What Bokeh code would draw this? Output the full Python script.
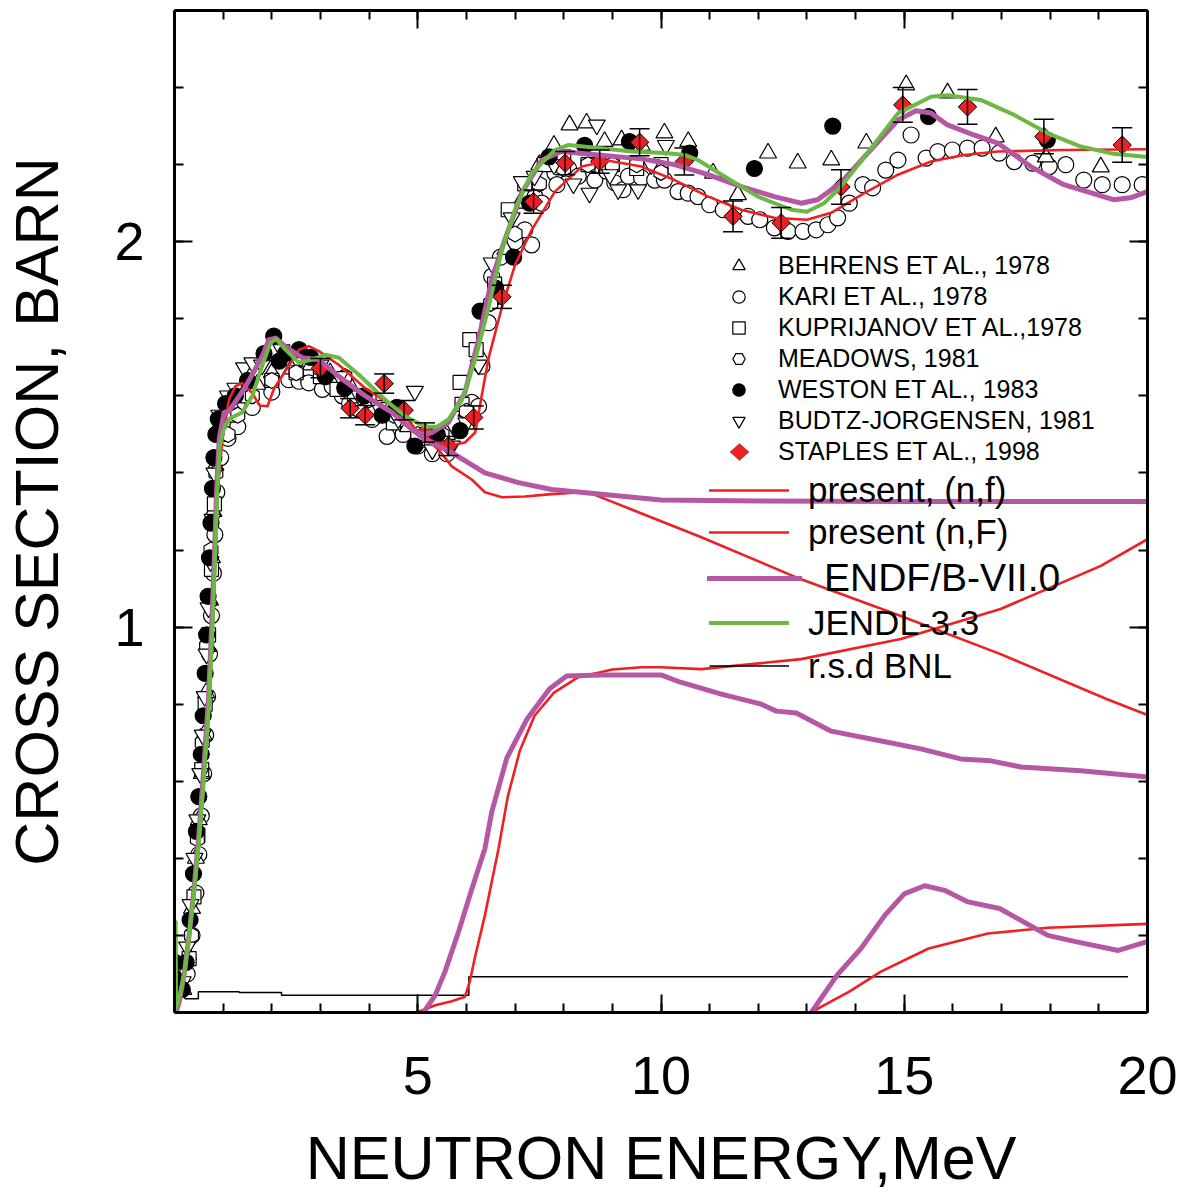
import math
from bokeh.plotting import figure
from bokeh.models import (LinearAxis, FixedTicker, Legend, LegendItem, Whisker,
                          TeeHead, ColumnDataSource, PolyAnnotation)
from bokeh.embed import file_html
from bokeh.resources import INLINE

FONT = "Liberation Sans"

# ---------------- axis ticks ----------------
X_MAJOR = [5, 10, 15, 20]
X_MINOR = list(range(0, 21))
Y_MAJOR = [1, 2]
Y_MINOR = [0.2, 0.4, 0.6, 0.8, 1.0, 1.2, 1.4, 1.6, 1.8, 2.0, 2.2, 2.4, 2.6]

# ---------------- experimental data ----------------
behrens_x = [0.18, 0.28, 0.36, 0.44, 0.5, 0.56, 0.6, 0.65, 0.69, 0.73, 0.77, 0.8, 0.84, 0.9, 1.0,
             1.2, 1.4, 1.7, 2.0, 2.4, 2.8, 3.2, 3.6, 4.0, 4.4, 4.8, 5.2, 5.6, 6.0, 6.3,
             6.5, 6.8, 7.1, 7.5, 7.8, 8.12, 8.47, 8.84, 9.19, 9.6, 10.07, 10.56, 11.07, 11.58, 12.2,
             12.81, 13.5, 14.22, 15.04, 15.89, 16.88, 17.91, 19.04]
behrens_y = [0.06, 0.15, 0.27, 0.4, 0.5, 0.62, 0.72, 0.83, 0.95, 1.07, 1.18, 1.3, 1.42, 1.52, 1.55,
             1.57, 1.6, 1.63, 1.66, 1.67, 1.68, 1.66, 1.63, 1.59, 1.55, 1.52, 1.48, 1.5, 1.56, 1.7,
             1.85, 1.98, 2.1, 2.2, 2.25, 2.303, 2.308, 2.26, 2.264, 2.25, 2.282, 2.26, 2.178, 2.122, 2.23,
             2.204, 2.212, 2.256, 2.407, 2.386, 2.272, 2.22, 2.194]

kari_x = [0.26, 0.36, 0.44, 0.5, 0.55, 0.6, 0.64, 0.68, 0.72, 0.76, 0.8, 0.83, 0.87, 0.95, 1.1,
          1.3, 1.6, 2.0, 2.35, 2.56, 2.76, 3.04, 3.24, 3.45, 3.6, 3.79, 4.06, 4.37, 4.7, 5.0,
          5.3, 5.6, 6.11, 6.25, 6.32, 6.45, 6.52, 6.7, 7.0, 7.2, 7.34, 7.41, 7.55, 7.82, 7.86,
          8.1, 8.3, 8.64, 8.88, 9.05, 9.22, 9.33, 9.6, 9.87, 10.07, 10.35, 10.56, 10.76, 11.0, 11.28,
          11.79, 12.03, 12.33, 12.61, 12.92, 13.19, 13.43, 13.63, 13.87, 14.15, 14.35, 14.62, 14.87, 15.14, 15.45,
          15.69, 15.99, 16.3, 16.6, 16.95, 17.26, 17.64, 17.98, 18.32, 18.69, 19.07, 19.48, 19.89]
kari_y = [0.1, 0.2, 0.31, 0.41, 0.51, 0.62, 0.72, 0.82, 0.93, 1.03, 1.14, 1.24, 1.35, 1.44, 1.49,
          1.52, 1.57, 1.61, 1.642, 1.638, 1.634, 1.617, 1.625, 1.6, 1.58, 1.565, 1.539, 1.495, 1.5, 1.47,
          1.45, 1.45, 1.583, 1.573, 1.677, 1.79, 1.91, 1.96, 2.0, 2.031, 1.992, 2.117, 2.1, 2.178, 2.148,
          2.19, 2.17, 2.16, 2.183, 2.153, 2.135, 2.17, 2.166, 2.16, 2.16, 2.13, 2.126, 2.117, 2.096, 2.083,
          2.066, 2.057, 2.036, 2.027, 2.027, 2.031, 2.044, 2.062, 2.1, 2.148, 2.14, 2.186, 2.212, 2.277, 2.217,
          2.234, 2.238, 2.243, 2.243, 2.23, 2.208, 2.204, 2.195, 2.2, 2.16, 2.148, 2.148, 2.148]

kuprij_x = [0.3, 0.4, 0.48, 0.56, 0.63, 0.7, 0.76, 0.82, 0.95, 1.2, 1.5, 2.0, 2.5, 3.0, 3.34,
            3.7, 4.12, 4.5, 5.0, 5.4, 5.87, 5.91, 6.07, 6.2, 6.58, 6.86, 7.2, 7.6, 8.0, 8.5,
            9.0, 9.5, 10.0]
kuprij_y = [0.14, 0.3, 0.46, 0.63, 0.8, 0.98, 1.15, 1.32, 1.5, 1.55, 1.6, 1.64, 1.66, 1.65, 1.617,
            1.6, 1.57, 1.53, 1.49, 1.48, 1.635, 1.578, 1.746, 1.72, 1.89, 2.083, 2.15, 2.2, 2.22, 2.2,
            2.2, 2.19, 2.2]

meadows_x = [0.35, 0.47, 0.57, 0.66, 0.75, 0.85, 1.1, 1.3, 1.6, 2.0, 2.5, 3.0, 3.5, 4.0, 4.5,
             5.0, 5.5, 6.0, 6.5, 7.0, 7.5, 8.0, 8.5, 9.0, 9.5, 10.0]
meadows_y = [0.2, 0.45, 0.7, 0.95, 1.2, 1.4, 1.5, 1.55, 1.6, 1.64, 1.66, 1.67, 1.65, 1.59, 1.55,
             1.5, 1.5, 1.56, 1.84, 2.02, 2.15, 2.19, 2.2, 2.2, 2.2, 2.18]

weston_x = [0.0, 0.0, 0.01, 0.16, 0.24, 0.32, 0.39, 0.45, 0.5, 0.55, 0.59, 0.63, 0.66, 0.69, 0.72,
            0.75, 0.78, 0.81, 0.85, 0.9, 1.05, 1.25, 1.5, 1.84, 2.04, 2.15, 2.28, 2.56, 2.8, 3.1,
            3.5, 3.9, 4.27, 4.57, 4.94, 5.4, 5.87, 6.28, 6.6, 6.97, 7.3, 7.7, 8.43, 9.35, 10.59,
            11.92, 13.53, 15.5, 17.94]
weston_y = [0.05, 0.09, 0.13, 0.06, 0.13, 0.24, 0.36, 0.47, 0.56, 0.67, 0.77, 0.88, 0.98, 1.08, 1.18,
            1.27, 1.36, 1.44, 1.5, 1.54, 1.58, 1.6, 1.64, 1.71, 1.755, 1.69, 1.71, 1.72, 1.7, 1.65,
            1.62, 1.6, 1.55, 1.57, 1.47, 1.5, 1.51, 1.82, 1.88, 1.96, 2.1, 2.22, 2.25, 2.26, 2.23,
            2.19, 2.3, 2.325, 2.264]

budtz_x = [0.17, 0.26, 0.33, 0.41, 0.47, 0.53, 0.58, 0.62, 0.66, 0.7, 0.74, 0.78, 0.82, 0.92, 1.1,
           1.25, 1.43, 1.6, 1.8, 2.2, 2.6, 3.0, 3.4, 3.8, 4.2, 4.6, 4.94, 5.3, 5.7, 6.0,
           6.25, 6.52, 6.93, 7.14, 7.4, 7.8, 8.2, 8.53, 8.68, 8.95, 9.12, 9.53, 9.8, 10.1]
budtz_y = [0.08, 0.17, 0.28, 0.4, 0.5, 0.62, 0.72, 0.82, 0.93, 1.05, 1.17, 1.28, 1.4, 1.55, 1.6,
           1.62, 1.673, 1.686, 1.68, 1.72, 1.7, 1.68, 1.65, 1.6, 1.57, 1.54, 1.612, 1.46, 1.47, 1.53,
           1.68, 1.945, 2.062, 2.156, 2.17, 2.2, 2.15, 2.126, 2.303, 2.174, 2.135, 2.135, 2.2, 2.25]

staples_x = [3.0, 3.61, 3.92, 4.31, 4.72, 5.15, 5.63, 6.15, 6.73, 7.38, 8.03, 8.74, 9.56, 10.48,
             11.48, 12.47, 13.7, 14.97, 16.3, 17.87, 19.48]
staples_y = [1.672, 1.568, 1.55, 1.632, 1.563, 1.505, 1.47, 1.544, 1.857, 2.104, 2.204, 2.208, 2.258,
             2.208, 2.066, 2.049, 2.142, 2.355, 2.35, 2.273, 2.251]
staples_err = [0.025, 0.025, 0.025, 0.025, 0.025, 0.025, 0.025, 0.03, 0.03, 0.03, 0.03, 0.03, 0.035,
               0.035, 0.04, 0.04, 0.045, 0.045, 0.045, 0.045, 0.045]

# ---------------- evaluations ----------------
present_nf_x = [0.0, 0.015, 0.1, 0.2, 0.3, 0.4, 0.5, 0.6, 0.7, 0.78, 0.84, 0.88, 0.93, 1.0, 1.12,
                1.25, 1.39, 1.6, 1.75, 1.91, 2.05, 2.21, 2.56, 2.76, 2.97, 3.38, 3.92, 4.6, 5.02, 5.36,
                5.77, 5.97, 6.18, 6.35, 6.46, 6.73, 7.0, 7.34, 7.82, 8.37, 8.92, 9.6, 10.28, 10.97, 11.65,
                12.33, 13.0, 13.5, 14.18, 14.87, 15.55, 16.23, 16.92, 18.28, 20.0]
present_nf_y = [0.26, 0.02, 0.02, 0.09, 0.19, 0.3, 0.43, 0.59, 0.77, 0.98, 1.18, 1.33, 1.42, 1.5, 1.59,
                1.625, 1.633, 1.607, 1.575, 1.573, 1.62, 1.651, 1.72, 1.729, 1.716, 1.68, 1.62, 1.565, 1.505, 1.479,
                1.474, 1.479, 1.505, 1.625, 1.7, 1.83, 1.94, 2.03, 2.13, 2.195, 2.21, 2.195, 2.16, 2.117, 2.083,
                2.062, 2.057, 2.075, 2.126, 2.174, 2.208, 2.225, 2.234, 2.238, 2.24]

present_1st_x = [5.02, 5.43, 5.7, 6.11, 6.38, 6.73, 7.2, 7.75, 8.37, 8.6, 9.6, 10.83, 12.88, 14.93,
                 16.98, 19.17, 20.0]
present_1st_y = [1.505, 1.46, 1.417, 1.383, 1.35, 1.337, 1.339, 1.345, 1.35, 1.345, 1.295, 1.233, 1.124,
                 1.029, 0.93, 0.813, 0.772]
present_2nd_x = [4.98, 5.36, 5.7, 5.97, 6.07, 6.17, 6.38, 6.66, 6.85, 7.1, 7.4, 7.8, 8.3, 9.0, 9.6,
                 10.0, 10.83, 12.88, 14.93, 16.98, 19.04, 20.0]
present_2nd_y = [0.0, 0.019, 0.029, 0.041, 0.08, 0.14, 0.252, 0.425, 0.56, 0.68, 0.77, 0.83, 0.87, 0.89,
                 0.896, 0.896, 0.891, 0.917, 0.969, 1.047, 1.159, 1.228]
present_3rd_x = [13.08, 13.87, 14.52, 15.5, 16.72, 17.95, 20.0]
present_3rd_y = [0.0, 0.054, 0.106, 0.166, 0.205, 0.22, 0.23]

endf_x = [0.03, 0.1, 0.2, 0.3, 0.4, 0.5, 0.6, 0.7, 0.77, 0.83, 0.87, 0.92, 1.02, 1.12, 1.46,
          1.8, 1.94, 2.08, 2.28, 2.63, 2.97, 3.38, 3.92, 4.47, 4.88, 5.1, 5.29, 5.63, 5.97, 6.25,
          6.52, 6.79, 7.14, 7.55, 7.96, 8.71, 9.6, 10.28, 10.97, 11.65, 12.33, 12.88, 13.22, 13.7, 14.18,
          14.87, 15.24, 15.55, 15.89, 16.43, 16.92, 17.6, 18.28, 19.3, 19.65, 20.0]
endf_y = [0.0, 0.03, 0.1, 0.2, 0.32, 0.46, 0.63, 0.82, 1.02, 1.22, 1.37, 1.49, 1.557, 1.56, 1.624,
          1.702, 1.746, 1.75, 1.728, 1.699, 1.694, 1.65, 1.6, 1.557, 1.513, 1.5, 1.505, 1.531, 1.609, 1.746,
          1.902, 2.005, 2.127, 2.212, 2.234, 2.225, 2.215, 2.2, 2.174, 2.143, 2.117, 2.1, 2.109, 2.153, 2.22,
          2.316, 2.34, 2.334, 2.303, 2.277, 2.256, 2.195, 2.148, 2.109, 2.114, 2.13]
endf_1st_x = [4.88, 5.15, 5.7, 6.38, 7.07, 7.75, 8.78, 10.0, 12.0, 15.0, 20.0]
endf_1st_y = [1.513, 1.487, 1.453, 1.4, 1.375, 1.357, 1.345, 1.33, 1.327, 1.326, 1.326]
endf_2nd_x = [5.12, 5.36, 5.56, 5.84, 6.11, 6.38, 6.52, 6.83, 7.24, 7.71, 8.06, 8.78, 10.0, 10.4,
              11.24, 12.06, 12.37, 12.78, 13.5, 14.5, 15.34, 16.16, 16.78, 17.4, 18.63, 20.0]
endf_2nd_y = [0.0, 0.045, 0.106, 0.21, 0.32, 0.425, 0.52, 0.66, 0.76, 0.84, 0.873, 0.876, 0.876, 0.857,
              0.826, 0.8, 0.782, 0.777, 0.73, 0.705, 0.684, 0.658, 0.653, 0.637, 0.627, 0.611]
endf_3rd_x = [13.09, 13.62, 14.11, 14.6, 15.0, 15.42, 15.83, 16.31, 16.96, 17.95, 18.52, 19.4, 20.0]
endf_3rd_y = [0.0, 0.097, 0.166, 0.252, 0.308, 0.329, 0.317, 0.287, 0.27, 0.2, 0.184, 0.161, 0.184]

jendl_x = [0.025, 0.03, 0.1, 0.2, 0.3, 0.4, 0.5, 0.6, 0.7, 0.78, 0.84, 0.88, 0.93, 1.0, 1.12,
           1.39, 1.6, 1.8, 1.97, 2.09, 2.28, 2.56, 2.83, 3.1, 3.38, 3.79, 4.33, 4.74, 5.15, 5.4,
           5.63, 5.91, 6.18, 6.46, 6.73, 7.0, 7.34, 7.82, 8.1, 8.71, 9.4, 10.08, 10.5, 10.76, 11.3,
           11.99, 12.68, 13.0, 13.35, 13.7, 14.18, 14.87, 15.55, 15.89, 16.57, 17.26, 17.94, 18.63, 19.3, 20.0]
jendl_y = [0.235, 0.01, 0.04, 0.1, 0.2, 0.31, 0.44, 0.6, 0.78, 1.0, 1.2, 1.35, 1.47, 1.51, 1.54,
           1.557, 1.6, 1.677, 1.737, 1.748, 1.72, 1.686, 1.694, 1.707, 1.699, 1.655, 1.59, 1.547, 1.52, 1.52,
           1.539, 1.59, 1.694, 1.832, 1.979, 2.083, 2.178, 2.238, 2.251, 2.243, 2.234, 2.23, 2.225, 2.212, 2.17,
           2.117, 2.083, 2.078, 2.1, 2.143, 2.22, 2.333, 2.376, 2.38, 2.368, 2.329, 2.282, 2.247, 2.228, 2.22]

bnl_x = [0.0, 0.05, 0.22, 0.49, 0.49, 1.33, 1.33, 2.2, 2.2, 6.05, 6.05, 19.6]
bnl_y = [0.08, 0.075, 0.036, 0.036, 0.054, 0.054, 0.052, 0.052, 0.045, 0.045, 0.093, 0.093]

RED = "#ee2024"
PURPLE = "#b557a3"
GREEN = "#6bb844"

p = figure(width=1183, height=1196, x_range=(0, 20), y_range=(0, 2.6),
           x_axis_type=None, y_axis_type=None, output_backend="svg", toolbar_location=None,
           min_border_left=172, min_border_right=36, min_border_top=10, min_border_bottom=184,
           background_fill_color="white", border_fill_color="white", outline_line_color=None)
p.grid.visible = False

xt = FixedTicker(ticks=X_MAJOR, minor_ticks=X_MINOR)
yt = FixedTicker(ticks=Y_MAJOR, minor_ticks=Y_MINOR)


def style_axis(ax, labels, majors):
    ax.axis_line_width = 3
    ax.axis_line_color = "black"
    ax.major_tick_in = 18
    ax.major_tick_out = 0
    ax.minor_tick_in = 9
    ax.minor_tick_out = 0
    ax.major_tick_line_width = 2
    ax.minor_tick_line_width = 2
    ax.major_tick_line_color = "black"
    ax.minor_tick_line_color = "black"
    if labels:
        ax.major_label_text_font = FONT
        ax.major_label_text_font_size = "54px"
        ax.major_label_text_color = "black"
        ax.axis_label_text_font = FONT
        ax.axis_label_text_font_size = "61px"
        ax.axis_label_text_font_style = "normal"
        ax.axis_label_text_color = "black"
    else:
        ax.major_label_overrides = {t: "" for t in majors}
        ax.major_label_standoff = 0


xb = LinearAxis(ticker=xt, axis_label="NEUTRON ENERGY,MeV")
style_axis(xb, True, X_MAJOR)
xb.major_label_standoff = 44
xb.axis_label_standoff = 27
p.add_layout(xb, "below")

yl = LinearAxis(ticker=yt, axis_label="CROSS SECTION, BARN")
style_axis(yl, True, Y_MAJOR)
yl.major_label_standoff = 30
yl.axis_label_standoff = 40
p.add_layout(yl, "left")

xa = LinearAxis(ticker=xt)
style_axis(xa, False, X_MAJOR)
p.add_layout(xa, "above")
yr = LinearAxis(ticker=yt)
style_axis(yr, False, Y_MAJOR)
p.add_layout(yr, "right")

# ---------------- experimental points ----------------
MK = dict(line_color="black", line_width=1.2)
r_kari = p.scatter(kari_x, kari_y, marker="circle", size=16, fill_color="white", **MK)
r_beh = p.scatter(behrens_x, behrens_y, marker="triangle", size=17, fill_color="white", **MK)
r_kup = p.scatter(kuprij_x, kuprij_y, marker="square", size=14, fill_color="white", **MK)
r_mea = p.scatter(meadows_x, meadows_y, marker="hex", size=16, angle=math.pi / 2,
                  fill_color="white", **MK)
r_bud = p.scatter(budtz_x, budtz_y, marker="inverted_triangle", size=17, fill_color="white", **MK)
r_wes = p.scatter(weston_x, weston_y, marker="circle", size=16, fill_color="black", **MK)

st_src = ColumnDataSource(dict(x=staples_x, y=staples_y,
                               lo=[a - b for a, b in zip(staples_y, staples_err)],
                               hi=[a + b for a, b in zip(staples_y, staples_err)]))
wh = Whisker(base="x", lower="lo", upper="hi", source=st_src, line_width=1.5, line_color="black",
             lower_head=TeeHead(size=20, line_width=1.5, line_color="black"),
             upper_head=TeeHead(size=20, line_width=1.5, line_color="black"), level="glyph")
p.add_layout(wh)
r_sta = p.scatter("x", "y", source=st_src, marker="square", size=13, angle=math.pi / 4,
                  fill_color=RED, line_color="black", line_width=1.0)
# invisible stand-in used only for the legend entry (its diamond is drawn below)
r_sta_key = p.scatter(x=[], y=[], marker="square", size=1, fill_alpha=0, line_alpha=0)

# ---------------- evaluated curves ----------------
r_bnl = p.line(bnl_x, bnl_y, line_color="black", line_width=1.5)
LJ = dict(line_join="round", line_cap="round")
r_pres = p.line(present_nf_x, present_nf_y, line_color=RED, line_width=2.6, **LJ)
r_p1 = p.line(present_1st_x, present_1st_y, line_color=RED, line_width=2.6, **LJ)
p.line(present_2nd_x, present_2nd_y, line_color=RED, line_width=2.6, **LJ)
p.line(present_3rd_x, present_3rd_y, line_color=RED, line_width=2.6, **LJ)
r_endf = p.line(endf_x, endf_y, line_color=PURPLE, line_width=5, **LJ)
p.line(endf_1st_x, endf_1st_y, line_color=PURPLE, line_width=5, **LJ)
p.line(endf_2nd_x, endf_2nd_y, line_color=PURPLE, line_width=5, **LJ)
p.line(endf_3rd_x, endf_3rd_y, line_color=PURPLE, line_width=5, **LJ)
r_jendl = p.line(jendl_x, jendl_y, line_color=GREEN, line_width=4, **LJ)

# ---------------- legends ----------------
LEG = dict(padding=0, margin=0, border_line_alpha=0, background_fill_alpha=0,
           label_text_font=FONT, label_text_color="black")

leg_m = Legend(items=[LegendItem(label="BEHRENS ET AL., 1978", renderers=[r_beh]),
                      LegendItem(label="KARI ET AL., 1978", renderers=[r_kari]),
                      LegendItem(label="KUPRIJANOV ET AL.,1978", renderers=[r_kup]),
                      LegendItem(label="MEADOWS, 1981", renderers=[r_mea]),
                      LegendItem(label="WESTON ET AL., 1983", renderers=[r_wes]),
                      LegendItem(label="BUDTZ-JORGENSEN, 1981", renderers=[r_bud]),
                      LegendItem(label="STAPLES ET AL., 1998", renderers=[r_sta_key])],
               location=(547, 545), glyph_width=35, glyph_height=31, spacing=0,
               label_standoff=22, label_text_font_size="25px", label_height=31, **LEG)
p.add_layout(leg_m)

# diamond key of the Staples entry (screen units, frame bottom-left origin)
KX, KY, KW, KH = 565, 560.5, 9.5, 8.5
p.add_layout(PolyAnnotation(xs=[KX, KX + KW, KX, KX - KW], ys=[KY + KH, KY, KY - KH, KY],
                            xs_units="screen", ys_units="screen", fill_color=RED, fill_alpha=1,
                            line_color="black", line_width=1.0))

leg_1 = Legend(items=[LegendItem(label="present, (n,f)", renderers=[r_pres]),
                      LegendItem(label="present (n,F)", renderers=[r_p1])],
               location=(535, 459), glyph_width=80, glyph_height=42, spacing=0,
               label_standoff=19, label_text_font_size="35px", **LEG)
p.add_layout(leg_1)

leg_2 = Legend(items=[LegendItem(label="ENDF/B-VII.0", renderers=[r_endf])],
               location=(533, 412), glyph_width=95, glyph_height=44, spacing=0,
               label_standoff=22, label_text_font_size="39px", **LEG)
p.add_layout(leg_2)

leg_3 = Legend(items=[LegendItem(label="JENDL-3.3", renderers=[r_jendl]),
                      LegendItem(label="r.s.d BNL", renderers=[r_bnl])],
               location=(535, 325), glyph_width=80, glyph_height=43, spacing=0,
               label_standoff=19, label_text_font_size="35px", **LEG)
p.add_layout(leg_3)

open("out.html", "w").write(file_html(p, INLINE))
